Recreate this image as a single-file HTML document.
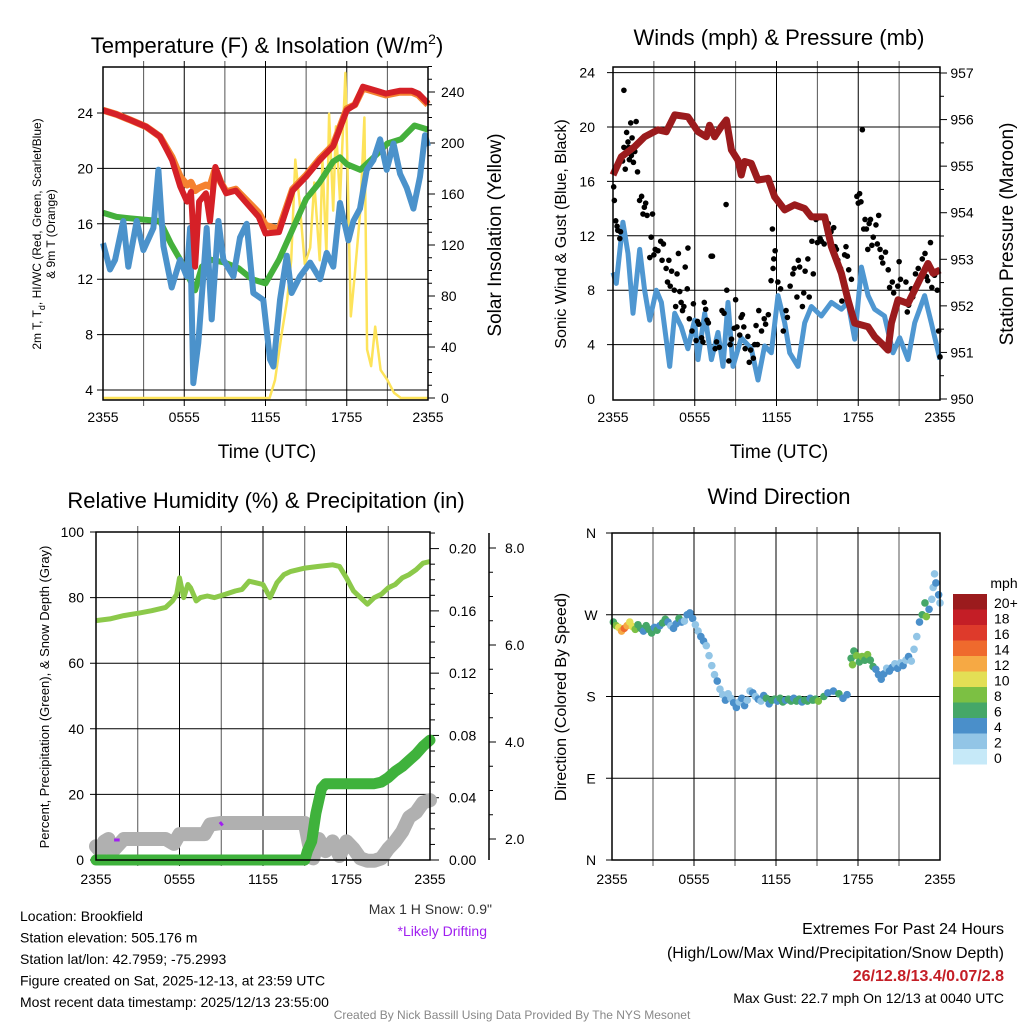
<!DOCTYPE html>
<html><head><meta charset="utf-8"><style>
html,body{margin:0;padding:0;background:#fff;}
svg{display:block;font-family:"Liberation Sans",sans-serif;}
</style></head><body>
<svg id="c" width="1024" height="1024" viewBox="0 0 1024 1024" xmlns="http://www.w3.org/2000/svg"></svg>
<script>
// ---------- DATA ----------
const timeTicks = ["2355","0555","1155","1755","2355"];
// Panel 1: temperature
const tempH = [0,1,2,3.2,4.2,5.1,5.7,6.2,6.5,6.8,7.1,7.6,7.9,8.3,8.7,9.1,9.8,10.5,11.5,12,13,14,15,16,17,18,18.6,19.2,20.2,20.9,21.9,22.8,23.3,24];
const tempRed = [24.2,23.9,23.5,23.0,22.3,20.6,18.7,17.6,18.3,12.9,17.6,18.2,16.2,20.1,19.0,18.2,18.4,17.6,16.5,15.3,15.4,18.4,19.4,20.6,21.6,24.2,24.6,25.9,25.6,25.4,25.6,25.6,25.4,24.7];
const tempOrange = [24.2,23.9,23.5,23.0,22.3,20.8,19.4,18.8,19.0,18.4,18.6,18.8,18.7,20.0,19.0,18.3,18.5,17.8,16.8,15.9,15.6,18.5,19.5,20.7,21.7,24.3,24.6,25.8,25.5,25.3,25.5,25.5,25.3,24.6];
const dewH = [0,1,2,3,4.2,5,5.7,6.2,6.8,7.3,8,9,10,11,12,13,14,15,16,17,17.5,18,19,20,21,22,23,24];
const dewT = [16.8,16.5,16.4,16.3,16.2,14.6,13.4,12.4,11.2,12.9,13.4,13.2,12.8,12.0,11.7,13.4,15.6,17.8,19.0,20.5,20.8,20.3,19.9,20.8,21.8,22.1,23.1,22.8];
const chillH = [0,0.52,0.89,1.5,1.87,2.49,2.98,3.72,4.09,4.46,5.07,5.69,6.18,6.43,6.67,7.04,7.41,7.66,8.03,8.52,8.89,9.63,10.12,10.61,11.1,11.84,12.33,12.58,13.07,13.57,13.93,14.55,15.29,16.03,16.52,17.01,17.5,18.12,18.49,18.98,19.47,19.97,20.46,20.95,21.45,21.94,22.43,22.92,23.41,23.78,24];
const chillT = [14.6,12.7,13.4,16.2,12.9,16.2,14.1,15.7,19.9,14.4,11.4,13.4,12.2,15.7,4.5,7.4,12.2,15.7,9.1,16.2,13.4,12.2,15.0,16.0,11.0,10.5,6.2,5.7,10.5,13.7,11.0,12.2,13.2,12.0,13.9,12.9,17.5,14.8,16.2,17.1,19.9,20.6,22.1,19.9,21.8,19.6,18.6,17.1,19.4,22.4,21.6];
const solarH = [0,12.3,12.7,13.2,13.6,13.9,14.2,14.5,14.9,15.3,15.6,16.0,16.2,16.5,16.7,17.0,17.2,17.5,17.9,18.3,18.6,19.0,19.3,19.5,19.8,20.1,20.5,21.0,21.5,22.0,24];
const solarV = [0,0,14,51,77,108,187,155,105,118,169,108,187,113,223,147,213,155,255,64,98,147,220,38,25,56,22,14,4,0,0];
// Panel 2: wind & pressure
const presH = [0,0.61,1.59,2.32,3.30,3.91,4.53,5.50,6.24,6.85,7.09,7.46,7.95,8.32,8.69,9.17,9.42,9.66,10.15,10.64,11.38,11.87,12.6,13.33,14.07,14.56,15.54,16.03,16.76,17.25,17.74,18.72,19.2,19.69,20.18,20.43,20.92,21.65,22.14,22.63,23.12,23.49,24];
const presV = [954.81,955.20,955.42,955.63,955.78,955.74,956.10,956.06,955.74,955.63,955.88,955.63,955.85,955.99,955.35,955.13,954.81,955.10,955.06,954.70,954.74,954.34,954.06,954.17,954.09,953.91,953.91,953.27,952.70,952.13,951.63,951.55,951.34,951.20,951.05,951.63,952.13,952.05,952.34,952.63,952.91,952.70,952.77];
const windH = [0,0.24,0.73,1.1,1.47,1.96,2.32,2.69,3.18,3.55,4.16,4.53,5.01,5.50,5.99,6.24,6.73,7.22,7.71,8.07,8.44,8.81,9.42,10.15,10.64,11.13,11.62,12.11,12.6,12.97,13.58,14.07,14.56,15.29,16.03,16.76,17.25,17.74,18.23,18.72,19.2,19.93,20.55,21.04,21.65,22.14,22.87,23.36,24];
const windV = [9.3,8.5,13.0,10.7,6.3,11.0,8.0,5.8,8.0,7.1,2.4,6.3,5.3,3.7,5.8,2.9,6.3,2.9,4.9,2.4,7.1,2.4,4.5,3.7,1.4,3.9,3.4,7.6,5.6,3.4,2.4,5.6,6.8,6.1,7.1,6.6,7.1,4.4,9.7,7.6,6.6,6.1,3.4,4.5,2.9,5.6,7.6,5.6,2.9];
const gustH = [0.05,0.1,0.2,0.35,0.3,0.5,0.55,0.7,0.8,0.8,0.9,1.0,1.1,1.15,1.2,1.3,1.35,1.4,1.5,1.6,1.7,1.8,1.95,2.1,2.2,2.3,2.4,2.5,2.7,2.8,2.9,3.0,3.1,3.3,3.5,3.6,3.7,3.9,4.0,4.1,4.2,4.3,4.5,4.6,4.7,4.8,4.9,5.0,5.1,5.2,5.3,5.45,5.5,5.6,5.8,5.9,6.1,6.2,6.3,6.5,6.6,6.7,6.8,6.9,7.0,7.2,7.3,7.5,7.6,7.8,8.0,8.15,8.3,8.35,8.5,8.6,8.7,8.9,9.0,9.1,9.3,9.4,9.5,9.6,9.7,9.9,10.0,10.1,10.3,10.4,10.5,10.6,10.7,10.9,11.1,11.2,11.4,11.6,11.7,11.75,11.8,11.9,12.1,12.3,12.5,12.7,12.8,13.0,13.2,13.3,13.5,13.6,13.7,13.9,14.0,14.1,14.3,14.4,14.6,14.7,14.9,15.0,15.2,15.3,15.5,15.7,15.8,16.0,16.2,16.3,16.4,16.5,16.7,16.8,17.0,17.1,17.2,17.3,17.5,17.9,18.0,18.1,18.2,18.3,18.4,18.5,18.6,18.7,18.8,18.9,19.0,19.1,19.3,19.4,19.5,19.6,19.7,19.8,20.0,20.2,20.3,20.5,20.6,20.9,21.0,21.1,21.3,21.5,21.6,21.7,21.9,22.0,22.2,22.4,22.5,22.7,22.9,23.0,23.1,23.3,23.4,23.6,23.8,23.9,24.0];
const gustV = [15.6,14.6,13.1,12.4,12.7,11.8,12.3,17.5,22.7,18.5,16.9,19.6,18.9,18.5,17.6,20.3,17.9,19.2,17.4,18.2,20.4,16.7,14.6,14.9,13.6,14.1,14.4,13.5,10.4,11.9,13.6,10.6,11.0,10.9,11.6,10.2,11.4,9.6,8.6,10.2,8.3,9.4,8.0,6.8,9.2,10.7,7.9,7.1,6.5,6.8,9.7,8.1,11.1,5.9,5.0,7.0,4.3,5.7,5.5,4.5,4.2,7.1,6.6,5.8,5.6,10.5,10.5,3.7,4.2,3.8,6.5,6.3,14.3,8.0,2.8,4.0,4.4,5.2,7.3,5.3,4.7,6.0,6.2,5.3,3.7,4.6,2.7,3.6,3.0,4.0,5.4,4.0,6.5,5.0,5.9,5.5,6.2,8.7,12.5,9.6,10.3,10.9,8.6,8.1,5.0,6.5,6.0,8.3,9.2,9.6,7.5,10.2,9.7,6.8,7.8,9.4,10.3,7.5,11.6,9.2,13.2,11.5,11.8,11.6,11.4,12.7,12.9,12.3,12.6,11.2,11.0,10.2,9.6,7.2,10.6,11.2,10.5,9.5,8.8,14.9,14.4,15.1,14.5,19.8,12.5,13.2,12.5,11.0,12.9,13.2,11.3,11.9,12.8,11.4,13.5,11.0,10.4,10.0,10.8,9.5,8.2,8.6,7.8,8.3,10.1,8.8,7.2,8.6,6.4,6.9,8.1,7.5,9.2,9.6,8.8,10.3,10.7,9.0,8.7,11.5,8.2,9.1,8.0,5.0,3.1];
// Panel 3: RH, precip, snow depth
const rhH = [0,1,2,3,4,5,5.5,5.8,6.0,6.3,6.6,6.8,7.2,7.5,8,8.5,9.3,10,10.5,11,11.5,12,12.5,13,13.5,14,15,16,17,17.5,18,18.5,19,19.5,20,20.5,21,21.5,22,22.5,23,23.5,24];
const rhV = [73,73.5,74.5,75.2,76,77,79,81,86,80,84,83,79,80,80.5,80,81,82,82.5,85,84.5,84,80,84.5,87,88,89,89.5,90,89.5,86,82,80,78,80,81,83,84,86,87,88.5,90.5,91];
const precipH = [0,15.0,15.2,15.5,15.8,16.2,16.5,18,19,20,20.5,21,21.5,22,22.5,23,23.5,24];
const precipV = [0,0,0.006,0.012,0.03,0.046,0.049,0.049,0.049,0.049,0.050,0.053,0.057,0.060,0.064,0.068,0.073,0.077];
const snowH = [0,0.3,0.6,0.9,1.2,2,3,4,5,5.6,6,7,7.8,8.2,9,10,11,12,13,14,14.6,15,15.3,15.6,16,16.5,17,17.5,18,18.5,19,19.5,20,20.5,21,21.5,22,22.5,23,23.5,24];
const snowV = [1.85,1.75,1.95,2.0,1.75,2.0,2.0,2.0,2.0,1.9,2.1,2.1,2.1,2.3,2.33,2.33,2.33,2.33,2.33,2.33,2.33,2.33,1.9,1.6,2.0,1.75,1.95,1.65,1.95,1.8,1.6,1.55,1.55,1.6,1.8,1.95,2.15,2.45,2.55,2.75,2.8];
const driftH = [1.3,1.7,8.9,9.1];
const driftV = [1.98,1.98,2.35,2.28];
// Panel 4: wind direction
const dirH = [0.1,0.3,0.5,0.7,0.9,1.1,1.3,1.5,1.7,1.9,2.1,2.3,2.5,2.7,2.9,3.1,3.3,3.5,3.7,3.9,4.1,4.3,4.5,4.7,4.9,5.1,5.3,5.5,5.7,5.9,6.1,6.3,6.5,6.7,6.9,7.1,7.3,7.5,7.7,7.9,8.1,8.3,8.5,8.7,8.9,9.1,9.3,9.5,9.7,9.9,10.1,10.3,10.5,10.7,10.9,11.1,11.3,11.5,11.7,11.9,12.1,12.3,12.5,12.7,12.9,13.1,13.3,13.5,13.7,13.9,14.1,14.3,14.5,14.7,14.9,15.1,15.5,15.8,16.2,16.6,16.9,17.2,17.5,17.6,17.7,17.9,18.1,18.3,18.5,18.7,18.9,19.1,19.3,19.5,19.7,19.9,20.1,20.3,20.5,20.7,20.9,21.1,21.3,21.5,21.7,21.9,22.1,22.3,22.5,22.7,22.9,23.0,23.2,23.4,23.5,23.6,23.7,23.9,24.0];
const dirV = [262,258,256,252,255,258,262,257,254,259,255,252,258,254,250,256,253,258,261,265,262,258,255,260,266,262,263,270,272,266,259,252,246,241,236,225,214,204,197,188,182,176,183,178,173,168,174,178,170,176,186,184,180,177,175,181,178,172,176,177,175,178,174,176,177,175,178,175,177,174,176,175,178,176,177,175,180,184,186,183,178,182,222,215,230,225,218,224,220,226,220,213,210,204,199,205,211,208,212,216,211,217,214,220,224,219,232,246,262,270,283,268,276,287,300,315,305,292,283];
const dirS = [6,8,10,12,14,12,10,10,8,6,6,4,6,6,6,4,6,4,6,6,4,2,4,4,6,4,2,4,4,4,2,2,4,4,2,2,2,2,4,2,2,4,2,2,4,4,2,4,4,2,2,4,2,4,2,4,6,4,6,6,4,6,6,4,6,6,4,6,6,4,6,6,4,6,6,8,6,4,4,6,4,4,6,8,6,8,6,8,6,8,6,6,4,4,4,4,2,4,4,2,4,2,4,2,4,2,2,2,4,6,6,8,4,2,2,2,4,4,2];
const speedLabels = ["20+","18","16","14","12","10","8","6","4","2","0"];
const speedColors = ["#c6e9f8","#92c5e6","#4a8fca","#45a768","#7cc043","#e3df55","#f6a944","#ef6a2d","#de3a2b","#c41e26","#9b1b1d"];

// ---------- HELPERS ----------
const NS = "http://www.w3.org/2000/svg";
const svg = document.getElementById('c');
function mk(tag, attrs, parent){
  const e = document.createElementNS(NS, tag);
  for (const k in attrs) e.setAttribute(k, attrs[k]);
  (parent||svg).appendChild(e);
  return e;
}
function txt(s, x, y, size, opts, parent){
  const o = Object.assign({x:x, y:y, 'font-size':size, fill:'#000'}, opts||{});
  const e = mk('text', o, parent);
  e.textContent = s;
  return e;
}
function pathD(xs, ys, fx, fy){
  let d = '';
  for (let i=0;i<xs.length;i++) d += (i?'L':'M') + fx(xs[i]).toFixed(1) + ',' + fy(ys[i]).toFixed(1);
  return d;
}

// ---------- PANEL 1 ----------
{
const L=103,R=428,T=67,B=400;
const fx = h => L + h*(R-L)/24;
const fy = t => 113 + (24-t)*13.85;
const fs = s => 398 - s*1.275;
const g = mk('g',{});


const grid = mk('g',{stroke:'#000','stroke-width':1},g);


for (let i=1;i<8;i++){ const x=fx(i*3); mk('line',{x1:x,x2:x,y1:T-6,y2:B+6,stroke:i%2?'#555':'#000'},grid); }
[24,20,16,12,8,4].forEach(v=>{ mk('line',{x1:L-6,x2:R,y1:fy(v),y2:fy(v)},grid); });
for (let s=0;s<=260;s+=10){ mk('line',{x1:R,x2:R+(s%40?4:7),y1:fs(s),y2:fs(s)},grid); }
const ly = mk('path',{d:pathD(solarH,solarV,fx,fs),fill:'none',stroke:'#fde35a','stroke-width':2.5,'stroke-linejoin':'round'},g);


const lg = mk('path',{d:pathD(dewH,dewT,fx,fy),fill:'none',stroke:'#44b03c','stroke-width':6,'stroke-linejoin':'round'},g);


const lb = mk('path',{d:pathD(chillH,chillT,fx,fy),fill:'none',stroke:'#4b92cb','stroke-width':6,'stroke-linejoin':'round'},g);


const lo = mk('path',{d:pathD(tempH,tempOrange,fx,fy),fill:'none',stroke:'#f58230','stroke-width':7,'stroke-linejoin':'round'},g);


const lr = mk('path',{d:pathD(tempH,tempRed,fx,fy),fill:'none',stroke:'#d52027','stroke-width':6,'stroke-linejoin':'round'},g);


const fr = mk('rect',{x:L,y:T,width:R-L,height:B-T,fill:'none',stroke:'#000','stroke-width':1.5},g);


[24,20,16,12,8,4].forEach(v=>{ const t=txt(String(v),L-10,fy(v)+5,14,{'text-anchor':'end'},g);   });
[0,40,80,120,160,200,240].forEach(v=>{ const t=txt(String(v),R+13,fs(v)+5,14,{},g);   });
timeTicks.forEach((s,i)=>{ const t=txt(s,fx(i*6),422,14,{'text-anchor':'middle'},g);   });
const t1 = mk('text',{x:267,y:53,'font-size':22,'text-anchor':'middle'},g);
t1.innerHTML = 'Temperature (F) &amp; Insolation (W/m<tspan dy="-9" font-size="14">2</tspan><tspan dy="9">)</tspan>';


const xl = txt('Time (UTC)',267,458,19,{'text-anchor':'middle'},g);


const yl = mk('text',{x:0,y:0,'font-size':12,'text-anchor':'middle',transform:'translate(41,234) rotate(-90)'},g);
yl.innerHTML = '2m T, T<tspan dy="4" font-size="9">d</tspan><tspan dy="-4">, HI/WC (Red, Green, Scarlet/Blue)</tspan>';


const yl2 = txt('& 9m T (Orange)',0,0,12,{'text-anchor':'middle',transform:'translate(55,234) rotate(-90)'},g);


const yr = txt('Solar Insolation (Yellow)',0,0,19,{'text-anchor':'middle',transform:'translate(501,235) rotate(-90)'},g);


}

// ---------- PANEL 2 ----------
{
const L=613,R=940,T=67,B=400;
const fx = h => L + h*(R-L)/24;
const fy = v => 399 - v*13.6;
const fp = p => 399 - (p-950)*46.57;
const g = mk('g',{});


const grid = mk('g',{stroke:'#000','stroke-width':1},g);


for (let i=1;i<8;i++){ const x=fx(i*3); mk('line',{x1:x,x2:x,y1:T-6,y2:B+6,stroke:i%2?'#555':'#000'},grid); }
[4,8,12,16,20,24].forEach(v=>{ mk('line',{x1:L-6,x2:R,y1:fy(v),y2:fy(v)},grid); });
for (let p=950;p<=957.01;p+=0.5){ mk('line',{x1:R,x2:R+(Math.abs(p-Math.round(p))<0.01?7:4),y1:fp(p),y2:fp(p)},grid); }
const lb = mk('path',{d:pathD(windH,windV,fx,fy),fill:'none',stroke:'#4f97d1','stroke-width':5,'stroke-linejoin':'round'},g);


const dots = mk('g',{fill:'#000'},g);


for (let i=0;i<gustH.length;i++){
  const c = mk('circle',{cx:fx(gustH[i]),cy:fy(gustV[i]),r:2.8},dots);
  
  
}
const lp = mk('path',{d:pathD(presH,presV,fx,fp),fill:'none',stroke:'#9b1b1d','stroke-width':7,'stroke-linejoin':'round'},g);


const fr = mk('rect',{x:L,y:T,width:R-L,height:B-T,fill:'none',stroke:'#000','stroke-width':1.5},g);


[0,4,8,12,16,20,24].forEach(v=>{ const t=txt(String(v),L-18,fy(v)+5,14,{'text-anchor':'end'},g);   });
[950,951,952,953,954,955,956,957].forEach(v=>{ const t=txt(String(v),R+22,fp(v)+5,14,{'text-anchor':'middle'},g);   });
timeTicks.forEach((s,i)=>{ const t=txt(s,fx(i*6),422,14,{'text-anchor':'middle'},g);   });
const t1 = txt('Winds (mph) & Pressure (mb)',779,45,22,{'text-anchor':'middle'},g);


const xl = txt('Time (UTC)',779,458,19,{'text-anchor':'middle'},g);


const yl = txt('Sonic Wind & Gust (Blue, Black)',0,0,16,{'text-anchor':'middle',transform:'translate(566,234) rotate(-90)'},g);


const yr = txt('Station Pressure (Maroon)',0,0,19,{'text-anchor':'middle',transform:'translate(1013,234) rotate(-90)'},g);


}

// ---------- PANEL 3 ----------
{
const L=96,R=430,T=532,B=860;
const fx = h => L + h*(R-L)/24;
const fy = v => 860 - v*3.28;
const fpr = p => 860 - p*1557;
const fsn = s => 839 - (s-2)*48.5;
const g = mk('g',{});


const grid = mk('g',{stroke:'#000','stroke-width':1},g);


for (let i=1;i<8;i++){ const x=fx(i*3); mk('line',{x1:x,x2:x,y1:T-6,y2:B+6,stroke:i%2?'#555':'#000'},grid); }
[0,20,40,60,80,100].forEach(v=>{ mk('line',{x1:L-6,x2:R,y1:fy(v),y2:fy(v)},grid); });
for (let k=0;k<=21;k++){ const p=k*0.01; mk('line',{x1:R,x2:R+(k%4?5:9),y1:fpr(p),y2:fpr(p)},grid); }
mk('line',{x1:489,x2:489,y1:533,y2:860,'stroke-width':1.5},grid);
for (let k=0;k<=13;k++){ const s=1.5+k*0.5; const y=fsn(s); if(y<533||y>860) continue; mk('line',{x1:489,x2:489+(Math.abs(s-Math.round(s/2)*2)<0.01?7:4),y1:y,y2:y},grid); }
const ls = mk('path',{d:pathD(snowH,snowV,fx,fsn),fill:'none',stroke:'#b0b0b0','stroke-width':14,'stroke-linejoin':'round','stroke-linecap':'round'},g);


for (let i=0;i<driftH.length;i+=2){
  const d = mk('line',{x1:fx(driftH[i]),y1:fsn(driftV[i]),x2:fx(driftH[i+1]),y2:fsn(driftV[i+1]),stroke:'#a020f0','stroke-width':3},g);
  
  
}
const lp = mk('path',{d:pathD(precipH,precipV,fx,fpr),fill:'none',stroke:'#3fb23c','stroke-width':11,'stroke-linejoin':'round','stroke-linecap':'round'},g);


const lr = mk('path',{d:pathD(rhH,rhV,fx,fy),fill:'none',stroke:'#8cc94a','stroke-width':5,'stroke-linejoin':'round'},g);


const fr = mk('rect',{x:L,y:T,width:R-L,height:B-T,fill:'none',stroke:'#000','stroke-width':1.5},g);


[0,20,40,60,80,100].forEach(v=>{ const t=txt(String(v),L-12,fy(v)+5,14,{'text-anchor':'end'},g);   });
["0.00","0.04","0.08","0.12","0.16","0.20"].forEach((s,i)=>{ const t=txt(s,449,fpr(i*0.04)+5,14,{},g);   });
["2.0","4.0","6.0","8.0"].forEach((s,i)=>{ const t=txt(s,505,fsn(2+i*2)+5,14,{},g);   });
timeTicks.forEach((s,i)=>{ const t=txt(s,fx(i*6),884,14,{'text-anchor':'middle'},g);   });
const t1 = txt('Relative Humidity (%) & Precipitation (in)',266,508,22,{'text-anchor':'middle'},g);


const yl = txt('Percent, Precipitation (Green), & Snow Depth (Gray)',0,0,13,{'text-anchor':'middle',transform:'translate(49,697) rotate(-90)'},g);


const sn = txt('Max 1 H Snow: 0.9"',492,914,14,{'text-anchor':'end',fill:'#333'},g);


const dn = txt('*Likely Drifting',487,936,14,{'text-anchor':'end',fill:'#a020f0'},g);


}

// ---------- PANEL 4 ----------
{
const L=612,R=940,T=533,B=860;
const fx = h => L + h*(R-L)/24;
const fy = d => 860 - d*327/360;
const g = mk('g',{});


const grid = mk('g',{stroke:'#000','stroke-width':1},g);


for (let i=1;i<8;i++){ const x=fx(i*3); mk('line',{x1:x,x2:x,y1:T-6,y2:B+6,stroke:i%2?'#555':'#000'},grid); }
[0,90,180,270,360].forEach(v=>{ mk('line',{x1:L-6,x2:R,y1:fy(v),y2:fy(v)},grid); });
const dots = mk('g',{},g);


for (let i=0;i<dirH.length;i++){
  const idx = Math.min(10, Math.floor((dirS[i]+1)/2));
  const c = mk('circle',{cx:fx(dirH[i]),cy:fy(dirV[i]),r:3.8,fill:speedColors[idx]},dots);
  
  
}
const fr = mk('rect',{x:L,y:T,width:R-L,height:B-T,fill:'none',stroke:'#000','stroke-width':1.5},g);


["N","E","S","W","N"].forEach((s,i)=>{ const t=txt(s,L-21,fy(i*90)+5,14,{'text-anchor':'middle'},g);   });
timeTicks.forEach((s,i)=>{ const t=txt(s,fx(i*6),884,14,{'text-anchor':'middle'},g);   });
const t1 = txt('Wind Direction',779,504,22,{'text-anchor':'middle'},g);


const yl = txt('Direction (Colored By Speed)',0,0,16,{'text-anchor':'middle',transform:'translate(566,697) rotate(-90)'},g);


const cb = mk('g',{},g);


const mph = txt('mph',1004,588,14,{'text-anchor':'middle'},cb);


speedLabels.forEach((s,i)=>{
  const col = speedColors[10-i];
  const r = mk('rect',{x:953,y:594+i*15.5,width:34,height:15.5,fill:col},cb);
  
  
  const t = txt(s,994,594+i*15.5+14,14,{},cb);
  
  
});
}

// ---------- FOOTER ----------
{
const g = mk('g',{});


["Location: Brookfield","Station elevation: 505.176 m","Station lat/lon: 42.7959; -75.2993","Figure created on Sat, 2025-12-13, at 23:59 UTC","Most recent data timestamp: 2025/12/13 23:55:00"].forEach((s,i)=>{
  const t = txt(s,20,921+i*21.5,14,{},g);
  
  
});
const e = mk('g',{'text-anchor':'end'});


const a = txt('Extremes For Past 24 Hours',1004,934,16,{},e);


const b = txt('(High/Low/Max Wind/Precipitation/Snow Depth)',1004,958,16,{},e);


const c = txt('26/12.8/13.4/0.07/2.8',1004,981,16,{fill:'#c41e26','font-weight':'bold'},e);


const d = txt('Max Gust: 22.7 mph On 12/13 at 0040 UTC',1004,1003,14,{},e);


const f = txt('Created By Nick Bassill Using Data Provided By The NYS Mesonet',512,1019,12,{'text-anchor':'middle',fill:'#888'});


}
</script>
</body></html>
